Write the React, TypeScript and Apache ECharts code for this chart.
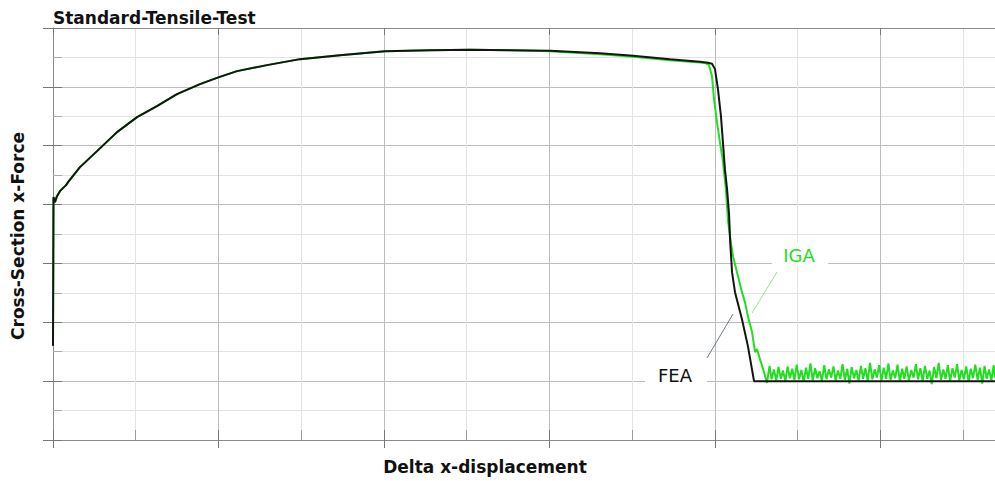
import React, { useEffect, useRef } from "react";
import * as echarts from "echarts";

const TITLE = "Standard-Tensile-Test";
const X_NAME = "Delta x-displacement";
const Y_NAME = "Cross-Section x-Force";

// FEA curve (black) — [displacement, force] in grid units
const FEA: [number, number][] = [
  [0, 0.6], [0.003, 3.126], [0.012, 3.041], [0.024, 3.143], [0.042, 3.228],
  [0.06, 3.279], [0.079, 3.33], [0.091, 3.381], [0.115, 3.466], [0.163, 3.636],
  [0.266, 3.908], [0.387, 4.231], [0.508, 4.486], [0.628, 4.672], [0.749, 4.876],
  [0.888, 5.046], [1.003, 5.165], [1.112, 5.267], [1.293, 5.369], [1.492, 5.471],
  [1.734, 5.539], [2.006, 5.607], [2.278, 5.624], [2.52, 5.629], [2.761, 5.624],
  [3.003, 5.612], [3.305, 5.573], [3.505, 5.527], [3.728, 5.471], [3.909, 5.428],
  [3.958, 5.411], [3.982, 5.394], [4.0, 5.301], [4.018, 4.961], [4.036, 4.502],
  [4.048, 4.061], [4.06, 3.602], [4.073, 3.262], [4.085, 2.837], [4.091, 2.413],
  [4.103, 1.852], [4.121, 1.512], [4.163, 1.053], [4.199, 0.595], [4.236, 0],
  [5.692, 0],
];

// IGA curve (green), main part
const IGA_MAIN: [number, number][] = [
  [0, 0.6], [0.003, 3.126], [0.012, 3.041], [0.024, 3.143], [0.042, 3.228],
  [0.06, 3.279], [0.079, 3.33], [0.091, 3.381], [0.115, 3.466], [0.163, 3.636],
  [0.266, 3.908], [0.387, 4.231], [0.508, 4.486], [0.628, 4.672], [0.749, 4.876],
  [0.888, 5.046], [1.003, 5.165], [1.112, 5.267], [1.293, 5.369], [1.492, 5.471],
  [1.734, 5.539], [2.006, 5.607], [2.278, 5.624], [2.52, 5.629], [2.761, 5.62],
  [3.003, 5.603], [3.305, 5.556], [3.505, 5.513], [3.728, 5.454], [3.909, 5.415],
  [3.946, 5.4], [3.964, 5.369], [3.982, 5.182], [3.994, 4.791], [4.012, 4.4],
  [4.03, 4.061], [4.048, 3.738], [4.066, 3.262], [4.079, 2.718], [4.097, 2.328],
  [4.109, 2.124], [4.133, 1.852], [4.163, 1.512], [4.181, 1.342], [4.199, 1.104],
  [4.224, 0.833], [4.242, 0.493], [4.254, 0.544], [4.272, 0.374], [4.296, 0.153],
  [4.314, -0.03],
];

// IGA curve (green), oscillating tail after rupture
const IGA_TAIL: [number, number][] = [
  [4.33, 0.26], [4.342, 0.03], [4.356, 0.2], [4.37, 0.01], [4.384, 0.24],
  [4.398, 0.04], [4.411, 0.18], [4.425, 0.0], [4.439, 0.25], [4.453, 0.05],
  [4.467, 0.21], [4.48, 0.02], [4.494, 0.28], [4.508, 0.03], [4.522, 0.19],
  [4.536, -0.01], [4.55, 0.23], [4.563, 0.04], [4.577, 0.3], [4.591, 0.01],
  [4.605, 0.22], [4.619, 0.05], [4.633, 0.17], [4.646, 0.0], [4.66, 0.27],
  [4.674, 0.03], [4.688, 0.2], [4.702, 0.06], [4.716, 0.25], [4.729, 0.01],
  [4.743, 0.18], [4.757, 0.04], [4.771, 0.29], [4.785, 0.02], [4.799, 0.21],
  [4.812, -0.04], [4.826, 0.24], [4.84, 0.05], [4.854, 0.19], [4.868, 0.01],
  [4.882, 0.26], [4.895, 0.04], [4.909, 0.22], [4.923, 0.0], [4.937, 0.31],
  [4.951, 0.03], [4.965, 0.2], [4.978, 0.06], [4.992, 0.27], [5.006, 0.01],
  [5.02, 0.23], [5.034, 0.04], [5.048, 0.3], [5.061, 0.02], [5.075, 0.18],
  [5.089, 0.05], [5.103, 0.28], [5.117, 0.0], [5.131, 0.21], [5.144, 0.04],
  [5.158, 0.25], [5.172, 0.01], [5.186, 0.19], [5.2, 0.06], [5.214, 0.29],
  [5.227, 0.03], [5.241, 0.22], [5.255, 0.0], [5.269, 0.26], [5.283, 0.04],
  [5.297, 0.18], [5.31, -0.05], [5.324, 0.24], [5.338, 0.05], [5.352, 0.31],
  [5.366, 0.02], [5.38, 0.2], [5.393, 0.04], [5.407, 0.27], [5.421, 0.0],
  [5.435, 0.22], [5.449, 0.06], [5.463, 0.29], [5.476, 0.01], [5.49, 0.19],
  [5.504, 0.03], [5.518, 0.25], [5.532, -0.01], [5.546, 0.21], [5.559, 0.05],
  [5.573, 0.28], [5.587, 0.02], [5.601, 0.23], [5.615, -0.04], [5.629, 0.26],
  [5.642, 0.04], [5.656, 0.2], [5.67, 0.01], [5.684, 0.27], [5.692, 0.06],
];

const X_MIN = 0;
const X_MAX = 5.692;
const Y_MIN = -1;
const Y_MAX = 6;

const FONT = "DejaVu Sans";
const GREEN = "#22dd22";
const BLACK = "#141414";
const AXIS_GRAY = "#8a8a8a";
const MAJOR_GRID = "#bdbdbd";
const MINOR_GRID = "#e3e3e3";

export default function App() {
  const ref = useRef<HTMLDivElement>(null);

  useEffect(() => {
    if (!ref.current) return;
    const chart = echarts.init(ref.current, null, { renderer: "svg" });

    const baseX = {
      type: "value" as const,
      min: X_MIN,
      max: X_MAX,
      interval: 1,
      axisLabel: { show: false },
    };
    const baseY = {
      type: "value" as const,
      min: Y_MIN,
      max: Y_MAX,
      interval: 1,
      axisLabel: { show: false },
    };

    chart.setOption({
      animation: false,
      backgroundColor: "#ffffff",
      title: {
        text: TITLE,
        left: 48,
        top: 4,
        textStyle: { fontFamily: FONT, fontWeight: "bold", fontSize: 17, color: "#111" },
      },
      grid: { left: 53, top: 28, right: 0, bottom: 41, containLabel: false },
      xAxis: [
        {
          ...baseX,
          position: "bottom",
          axisLine: { show: true, onZero: false, lineStyle: { color: AXIS_GRAY, width: 1 } },
          axisTick: { show: true, inside: false, length: 8, lineStyle: { color: "#777" } },
          minorTick: { show: false, splitNumber: 2 },
          splitLine: { show: true, lineStyle: { color: MAJOR_GRID, width: 1 } },
          minorSplitLine: { show: true, lineStyle: { color: MINOR_GRID, width: 1 } },
        },
        {
          ...baseX,
          position: "bottom",
          axisLine: { show: false, onZero: false },
          axisTick: { show: true, inside: true, length: 10, lineStyle: { color: "#777" } },
          minorTick: { show: true, splitNumber: 2, length: 10, lineStyle: { color: "#999" } },
          splitLine: { show: false },
        },
        {
          ...baseX,
          position: "top",
          axisLine: { show: true, onZero: false, lineStyle: { color: AXIS_GRAY, width: 1 } },
          axisTick: { show: true, inside: true, length: 7, lineStyle: { color: "#777" } },
          splitLine: { show: false },
        },
      ],
      yAxis: [
        {
          ...baseY,
          position: "left",
          axisLine: { show: true, onZero: false, lineStyle: { color: AXIS_GRAY, width: 1 } },
          axisTick: { show: true, inside: false, length: 10, lineStyle: { color: "#777" } },
          minorTick: { show: false, splitNumber: 2 },
          splitLine: { show: true, lineStyle: { color: MAJOR_GRID, width: 1 } },
          minorSplitLine: { show: true, lineStyle: { color: MINOR_GRID, width: 1 } },
        },
        {
          ...baseY,
          position: "left",
          axisLine: { show: false, onZero: false },
          axisTick: { show: true, inside: true, length: 9, lineStyle: { color: "#777" } },
          minorTick: { show: true, splitNumber: 2, length: 9, lineStyle: { color: "#aaa" } },
          splitLine: { show: false },
        },
      ],
      series: [
        {
          name: "IGA",
          type: "line",
          xAxisIndex: 0,
          yAxisIndex: 0,
          data: [...IGA_MAIN, ...IGA_TAIL],
          showSymbol: false,
          symbol: "none",
          lineStyle: { color: GREEN, width: 2 },
          z: 3,
        },
        {
          name: "FEA",
          type: "line",
          xAxisIndex: 0,
          yAxisIndex: 0,
          data: FEA,
          showSymbol: false,
          symbol: "none",
          lineStyle: { color: BLACK, width: 2 },
          z: 4,
        },
      ],
      graphic: [
        {
          type: "text",
          x: 18,
          y: 236,
          rotation: Math.PI / 2,
          style: {
            text: Y_NAME,
            fontFamily: FONT,
            fontWeight: "bold",
            fontSize: 17,
            fill: "#111",
            align: "center",
            verticalAlign: "middle",
          },
        },
        {
          type: "text",
          x: 485,
          y: 467,
          style: {
            text: X_NAME,
            fontFamily: FONT,
            fontWeight: "bold",
            fontSize: 17,
            fill: "#111",
            align: "center",
            verticalAlign: "middle",
          },
        },
        {
          type: "rect",
          z: 100,
          shape: { x: 772, y: 243, width: 56, height: 23 },
          style: { fill: "#ffffff" },
        },
        {
          type: "text",
          z: 101,
          x: 799,
          y: 255,
          style: {
            text: "IGA",
            fontFamily: FONT,
            fontSize: 18,
            fill: GREEN,
            align: "center",
            verticalAlign: "middle",
          },
        },
        {
          type: "line",
          z: 101,
          shape: { x1: 777, y1: 272, x2: 752, y2: 313 },
          style: { stroke: "#8fe88f", lineWidth: 1 },
        },
        {
          type: "rect",
          z: 100,
          shape: { x: 645, y: 363, width: 62, height: 25 },
          style: { fill: "#ffffff" },
        },
        {
          type: "text",
          z: 101,
          x: 675,
          y: 375,
          style: {
            text: "FEA",
            fontFamily: FONT,
            fontSize: 18,
            fill: "#111",
            align: "center",
            verticalAlign: "middle",
          },
        },
        {
          type: "line",
          z: 101,
          shape: { x1: 707, y1: 358, x2: 733, y2: 314 },
          style: { stroke: "#6a7d8c", lineWidth: 1 },
        },
      ],
    });

    return () => chart.dispose();
  }, []);

  return (
    <div
      ref={ref}
      style={{ position: "absolute", left: 0, top: 0, width: 995, height: 481, background: "#fff" }}
    />
  );
}
